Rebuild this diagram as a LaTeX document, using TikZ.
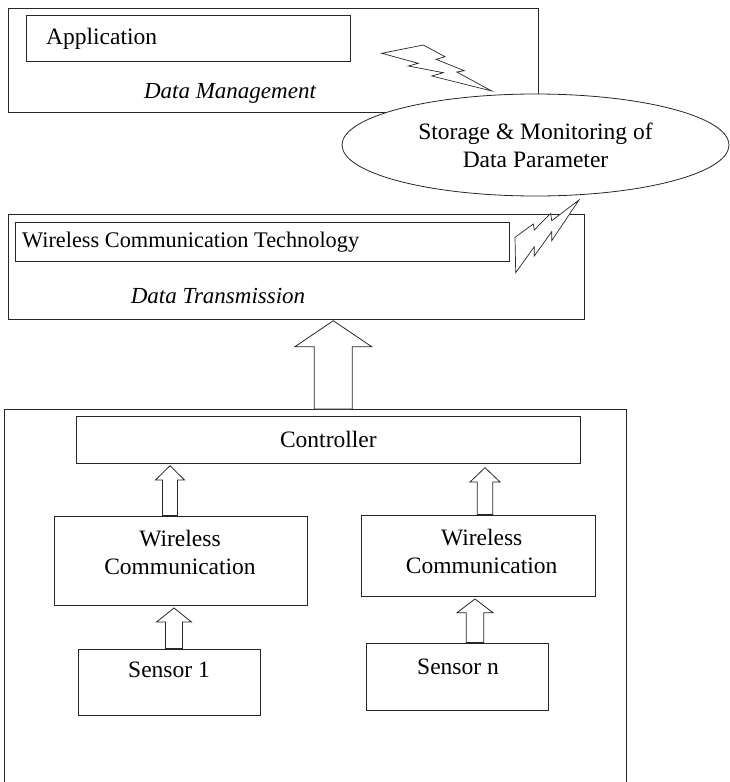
\documentclass[tikz,border=0pt]{standalone}
\usepackage{fontspec}
\setmainfont{Liberation Serif}
\usetikzlibrary{calc,shapes.geometric}

\tikzset{
  box/.style={draw=black!85, line width=0.8pt, fill=white, inner sep=0pt},
  blockarr/.style={draw=black!85, line width=0.8pt, fill=white, line join=miter},
  bolt/.style={draw=black!85, line width=0.7pt, fill=white, line join=miter},
  lbl/.style={font=\fontsize{23.5}{28}\selectfont, inner sep=0pt, align=center},
  ital/.style={lbl, font=\fontsize{23}{28}\selectfont\itshape},
}

% hollow block arrow pointing up: tip, source node, shaft half, head half, head length
\newcommand{\uparrowblock}[5]{%
  \draw[blockarr] let \p1=(#1), \p2=(#2.north) in
    (\x1,\y1) -- (\x1+#4,\y1-#5) -- (\x1+#3,\y1-#5) -- (\x1+#3,\y2)
    -- (\x1-#3,\y2) -- (\x1-#3,\y1-#5) -- (\x1-#4,\y1-#5) -- cycle;}

\begin{document}
\begin{tikzpicture}[x=1pt, y=-1pt]
% page frame
\useasboundingbox (0,0) rectangle (729,782);

% Data management layer
\node[box, minimum width=530pt, minimum height=104.7pt] (mgmt) at (273,60.35) {};
\node[box, minimum width=323.3pt, minimum height=46pt] (app) at (188.35,38.7) {};
\node[lbl, anchor=west] (apptxt) at (46,38.5) {Application};
\node[ital] (mgmttxt) at (230,93) {Data Management};
\draw[bolt] (381.7,53.3) -- (423.3,45) -- (445,56.7) -- (436,59.3) -- (464.3,70.7)
  -- (456.7,72) -- (491.7,91) -- (431.7,76) -- (443.3,72.7) -- (408.3,66)
  -- (418.3,63.3) -- cycle;
\node[box, lbl, ellipse, minimum width=387pt, minimum height=102pt] (store) at (535.5,145)
  {Storage \& Monitoring of\\Data Parameter};

% Data transmission layer
\node[box, minimum width=576pt, minimum height=105pt] (trans) at (296,266.8) {};
\node[box, minimum width=494pt, minimum height=39pt] (wct) at (262,242.2) {};
\node[lbl, font=\fontsize{22.3}{27}\selectfont, anchor=west] (wcttxt) at (22,242) {Wireless Communication Technology};
\node[ital] (transtxt) at (218,296) {Data Transmission};
\draw[bolt] (515,237.3) -- (533.3,224) -- (534.3,230) -- (550.7,213.3) -- (551.7,220.7)
  -- (579,200) -- (551.7,240.7) -- (551.7,231.7) -- (534.3,256) -- (534.3,246.7)
  -- (515.7,272.7) -- cycle;

% Field layer
\node[box, anchor=north west, minimum width=622pt, minimum height=390pt] (field) at (4,409) {};
\coordinate (tipbig) at (333.3,320.7);
\uparrowblock{tipbig}{field}{19pt}{38.4pt}{26pt}

\node[box, lbl, minimum width=504.7pt, minimum height=47pt] (ctrl) at (328.35,439.5) {Controller};
\node[box, minimum width=253pt, minimum height=89pt] (wc1) at (180.5,560.5) {};
\node[lbl] (wc1txt) at (180,552) {Wireless\\Communication};
\node[box, minimum width=234pt, minimum height=81pt] (wc2) at (478.7,555.5) {};
\node[lbl] (wc2txt) at (481.7,551) {Wireless\\Communication};
\node[box, minimum width=182pt, minimum height=66pt] (sens1) at (169,682) {};
\node[lbl] (sens1txt) at (169,670) {Sensor 1};
\node[box, minimum width=182pt, minimum height=67pt] (sensn) at (457.7,676.5) {};
\node[lbl] (sensntxt) at (458,666.5) {Sensor n};

% arrows between the blocks
\coordinate (tipa) at (170,465.7);
\coordinate (tipb) at (485,467.7);
\coordinate (tipc) at (174,608);
\coordinate (tipd) at (475,599);
\uparrowblock{tipa}{wc1}{7.5pt}{14.5pt}{14.3pt}
\uparrowblock{tipb}{wc2}{7.7pt}{15pt}{14.3pt}
\uparrowblock{tipc}{sens1}{8.5pt}{17.5pt}{14pt}
\uparrowblock{tipd}{sensn}{8.8pt}{18pt}{13.7pt}
\end{tikzpicture}
\end{document}
